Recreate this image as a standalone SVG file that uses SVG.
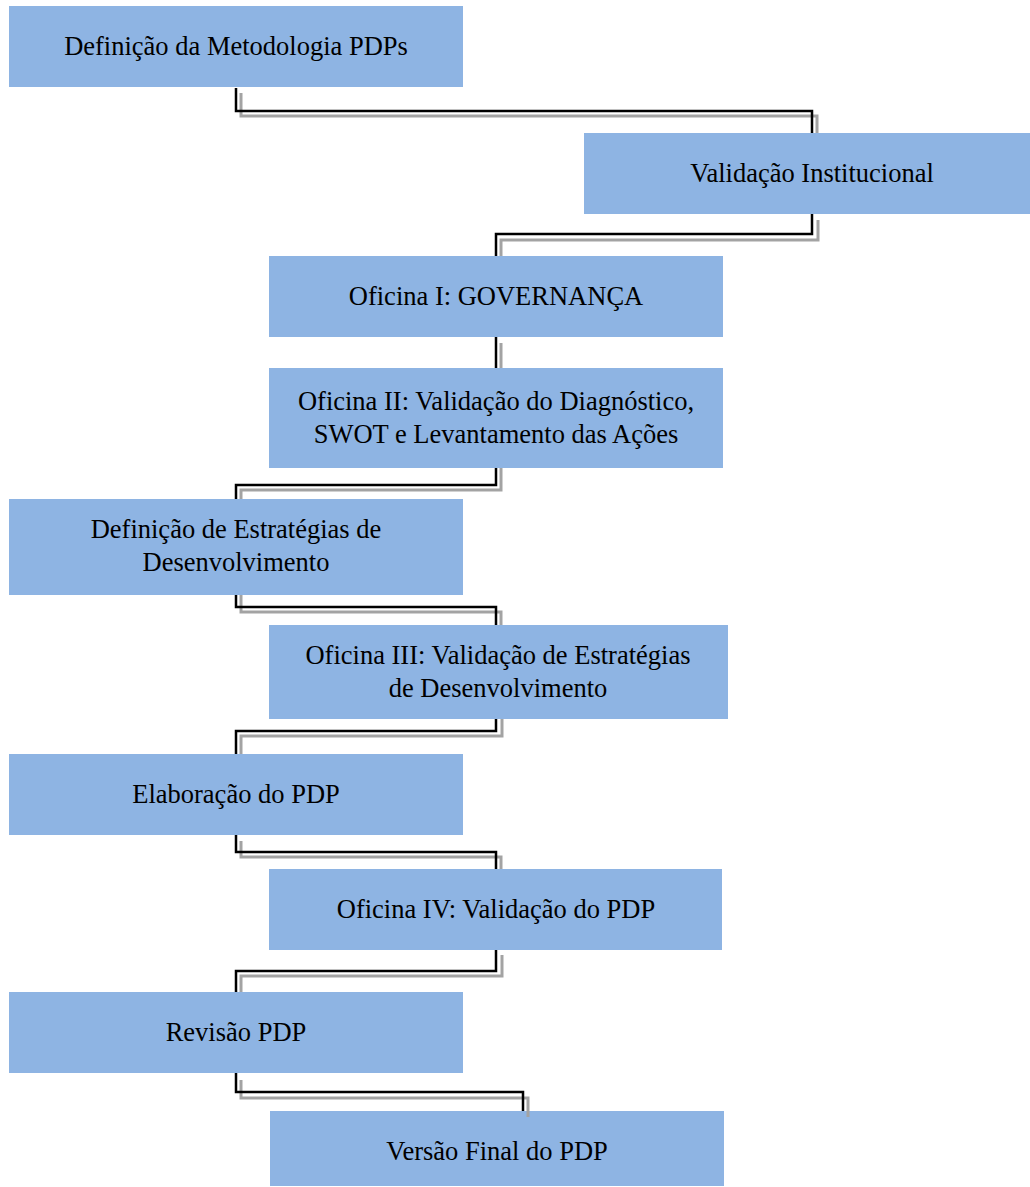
<svg xmlns="http://www.w3.org/2000/svg" width="1030" height="1187" viewBox="0 0 1030 1187">
<style>
.box{fill:#8EB4E3}
.t{font-family:"Liberation Serif","Times New Roman",serif;font-size:26.5px;fill:#000;text-anchor:middle}
.sh{fill:none;stroke:#A3A3A3;stroke-width:3}
.ln{fill:none;stroke:#000;stroke-width:2.5}
</style>
<rect width="1030" height="1187" fill="#fff"/>
<g id="n1"><rect class="box" x="9" y="6" width="454" height="81"/><text class="t" x="236" y="55">Definição da Metodologia PDPs</text></g>
<g id="n2"><rect class="box" x="584" y="133" width="446" height="81"/><text class="t" x="812" y="182">Validação Institucional</text></g>
<g id="n3"><rect class="box" x="269" y="256" width="454" height="81"/><text class="t" x="496" y="305">Oficina I: GOVERNANÇA</text></g>
<g id="n4"><rect class="box" x="269" y="368" width="454" height="100"/><text class="t" x="496" y="410">Oficina II: Validação do Diagnóstico,</text><text class="t" x="496" y="443">SWOT e Levantamento das Ações</text></g>
<g id="n5"><rect class="box" x="9" y="499" width="454" height="96"/><text class="t" x="236" y="538">Definição de Estratégias de</text><text class="t" x="236" y="571">Desenvolvimento</text></g>
<g id="n6"><rect class="box" x="269" y="625" width="459" height="94"/><text class="t" x="498" y="664">Oficina III: Validação de Estratégias</text><text class="t" x="498" y="697">de Desenvolvimento</text></g>
<g id="n7"><rect class="box" x="9" y="754" width="454" height="81"/><text class="t" x="236" y="803">Elaboração do PDP</text></g>
<g id="n8"><rect class="box" x="269" y="869" width="453" height="81"/><text class="t" x="496" y="918">Oficina IV: Validação do PDP</text></g>
<g id="n9"><rect class="box" x="9" y="992" width="454" height="81"/><text class="t" x="236" y="1041">Revisão PDP</text></g>
<g id="n10"><rect class="box" x="270" y="1111" width="454" height="75"/><text class="t" x="497" y="1160">Versão Final do PDP</text></g>
<g id="connectors">
<polyline class="sh" points="241,93 241,116 817,116 817,133"/>
<polyline class="ln" points="236,88 236,111 812,111 812,133"/>
<polyline class="sh" points="818,220 818,240 501,240 501,256"/>
<polyline class="ln" points="812,214 812,234 496,234 496,256"/>
<polyline class="sh" points="501,343 501,368"/>
<polyline class="ln" points="496,337 496,368"/>
<polyline class="sh" points="501,468 501,490 241,490 241,499"/>
<polyline class="ln" points="496,468 496,485 236,485 236,499"/>
<polyline class="sh" points="241,595 241,612 501,612 501,625"/>
<polyline class="ln" points="236,595 236,607 496,607 496,625"/>
<polyline class="sh" points="502,719 502,736 241,736 241,754"/>
<polyline class="ln" points="496,719 496,731 236,731 236,754"/>
<polyline class="sh" points="241,841 241,857 501,857 501,869"/>
<polyline class="ln" points="236,835 236,852 496,852 496,869"/>
<polyline class="sh" points="502,955 502,976 241,976 241,992"/>
<polyline class="ln" points="496,950 496,971 236,971 236,992"/>
<polyline class="sh" points="241,1080 241,1098 528,1098 528,1117"/>
<polyline class="ln" points="236,1073 236,1092 523,1092 523,1111"/>
</g>
</svg>
